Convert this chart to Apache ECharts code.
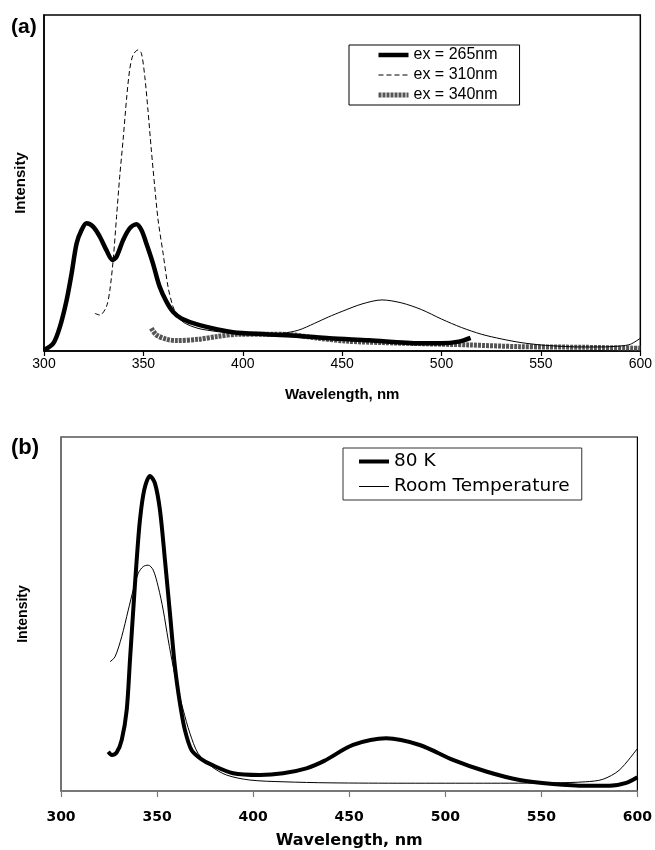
<!DOCTYPE html>
<html>
<head>
<meta charset="utf-8">
<script src="https://cdn.jsdelivr.net/npm/echarts@6/dist/echarts.min.js"></script>
<style>
  html, body { margin: 0; padding: 0; background: #fff; }
  #chart { width: 655px; height: 850px; }
</style>
</head>
<body>
<div id="chart"></div>
<script>
// panel (a): emission spectra at three excitation wavelengths, [nm, intensity]
const ex265 = [[300, 0.3], [304.7, 2.3], [308, 7.2], [311.4, 15.2], [313.9, 23.1], [316.4, 32], [318.9, 36],
  [321.4, 38], [324.7, 37], [328.1, 34], [331.4, 30], [334.5, 27.1], [336.5, 28.1], [339.8, 33], [343.1, 36.5],
  [346.5, 37.7], [349, 36], [351.5, 32], [354.8, 26.1], [358.2, 19.1], [361.6, 14.7], [364.9, 11.7], [369.1, 9.7],
  [378.3, 7.7], [395, 5.6], [411.7, 5], [428.4, 4.5], [443.5, 3.8], [463.5, 3.2], [488.6, 2.3], [500, 2.3],
  [508.7, 2.8], [514.6, 3.9]]
const ex310 = [[325.6, 11.2], [328.1, 10.7], [331.4, 13.2], [333.1, 18], [334.8, 27.1], [336.5, 40], [338.1, 52],
  [339.8, 62.9], [341.5, 74.8], [343.1, 83.7], [344.8, 88.1], [347.3, 89.6], [349, 88.6], [350.7, 81.7],
  [352.3, 71.7], [354, 59.8], [355.7, 48.9], [357.4, 39], [359.9, 29.1], [362.4, 19.1], [364.9, 13.2],
  [367.4, 10.2], [370, 8.6], [375, 7.2], [380, 6.4], [390, 5.6], [400, 5.2], [410, 5.1], [420, 5.3], [428, 6.2],
  [436, 8.2], [443, 10.1], [450, 11.8], [460, 14], [470, 15.2], [480, 14.3], [490, 12.3], [500, 9.5], [510, 7],
  [520, 5], [530, 3.6], [540, 2.5], [550, 1.8], [560, 1.4], [570, 1.2], [580, 1.2], [590, 1.5], [595, 2], [600, 3.8]]
const ex340 = [[354, 6.8], [356.5, 4.8], [361.6, 3.5], [366.6, 3.1], [378, 3.5], [387, 4.3], [398, 5], [412, 5],
  [423, 4.9], [438, 3.8], [453, 2.9], [470, 2.5], [489, 2.2], [514, 1.8], [539, 1.3], [572, 1.1], [600, 0.8]]

// panel (b): 80 K vs room temperature
const k80 = [[324.6, 11.1], [326.5, 10.2], [329, 10.9], [331.6, 14.4], [334.2, 22.9], [335.9, 37], [337.6, 51.1],
  [339.4, 65.3], [341.1, 76.6], [343.3, 85], [346.3, 89], [348.9, 86.9], [351.5, 79.4], [354.1, 65.3],
  [356.7, 50.2], [359.3, 35.1], [361.9, 24.8], [364.5, 17.2], [368, 11.5], [373, 9], [378, 7.5], [389.6, 5],
  [403.5, 4.5], [415.6, 5], [427.7, 6.4], [437, 8.5], [452, 13], [469.3, 14.9], [486.7, 13], [504, 8.8],
  [521.3, 5.5], [538.7, 3.1], [556, 2], [573.3, 1.5], [585.5, 1.5], [594.2, 2.3], [600, 3.9]]
const roomTemp = [[325.5, 36.5], [328.1, 37.9], [331.6, 43.6], [335, 51.1], [337.6, 56.8], [340.2, 61.5],
  [342.8, 63.4], [345.4, 63.8], [348, 62.4], [350.6, 57.7], [353.2, 51.1], [355.8, 42.7], [358.4, 35.1],
  [361, 28.5], [363.6, 22.9], [367.1, 16.3], [371.4, 10.6], [378.4, 6.9], [386.2, 4.5], [398.3, 3.1],
  [415.6, 2.6], [440, 2.3], [480, 2.2], [520, 2.2], [556, 2.3], [573, 2.6], [582, 3.3], [590.6, 5.9], [600, 12]]

const legendA = ['ex = 265nm', 'ex = 310nm', 'ex = 340nm']
const legendB = ['80 K', 'Room Temperature']
const xTicks = [300, 350, 400, 450, 500, 550, 600]

// the 310nm curve is dashed on the peak, the long tail prints solid
const dashEnd = 367.4
const ex310Dashed = ex310.filter(p => p[0] <= dashEnd)
const ex310Tail = ex310.filter(p => p[0] >= dashEnd)

const arial = '"Liberation Sans", Arial, sans-serif'
const dejavu = '"DejaVu Sans", Verdana, sans-serif'

function xAxisOf(idx, o) {
  return {
    type: 'value',
    gridIndex: idx,
    min: xTicks[0],
    max: xTicks[xTicks.length - 1],
    interval: 50,
    name: 'Wavelength, nm',
    nameLocation: 'middle',
    nameGap: o.nameGap,
    nameTextStyle: { fontFamily: o.nameFont, fontWeight: 'bold', fontSize: o.nameSize, color: '#000' },
    axisLine: { lineStyle: { color: o.axisColor, width: 1.5 } },
    axisTick: { inside: false, length: o.tickLen, lineStyle: { color: o.axisColor, width: 1.2 } },
    axisLabel: { margin: o.labelMargin, fontFamily: o.labelFont, fontWeight: o.labelWeight,
      fontSize: 14, color: '#000' },
    splitLine: { show: false }
  }
}

function yAxisOf(idx, o) {
  return {
    type: 'value',
    gridIndex: idx,
    min: 0,
    max: 100,
    name: 'Intensity',
    nameLocation: 'middle',
    nameGap: o.nameGap,
    nameTextStyle: { fontFamily: arial, fontWeight: 'bold', fontSize: o.nameSize, color: '#000' },
    axisLine: { show: true, lineStyle: { color: o.axisColor, width: 1.5 } },
    axisTick: { show: false },
    axisLabel: { show: false },
    splitLine: { show: false }
  }
}

function line(name, data, xi, width, type, color, z) {
  return {
    name: name,
    type: 'line',
    xAxisIndex: xi,
    yAxisIndex: xi,
    data: data,
    smooth: 0.3,
    symbol: 'none',
    z: z,
    itemStyle: { color: 'rgba(0,0,0,0)' },
    lineStyle: { color: color, width: width, type: type },
    emphasis: { disabled: true }
  }
}

function legendOf(names, o) {
  return {
    data: names,
    orient: 'vertical',
    left: o.left,
    top: o.top,
    itemWidth: 30,
    itemHeight: 14,
    itemGap: 0,
    padding: o.padding,
    borderColor: o.border,
    borderWidth: 1,
    backgroundColor: '#fff',
    selectedMode: false,
    itemStyle: { color: 'rgba(0,0,0,0)', borderWidth: 0 },
    lineStyle: { width: 'inherit' },
    textStyle: { fontFamily: o.font, fontSize: o.fontSize, lineHeight: o.lineHeight, color: '#000' }
  }
}

const chart = echarts.init(document.getElementById('chart'))
chart.setOption({
  animation: false,
  backgroundColor: '#fff',
  title: [
    { text: '(a)', left: 6, top: 12, textStyle: { fontFamily: arial, fontWeight: 'bold', fontSize: 21, color: '#000' } },
    { text: '(b)', left: 6, top: 432, textStyle: { fontFamily: arial, fontWeight: 'bold', fontSize: 22, color: '#000' } }
  ],
  grid: [
    { left: 44, top: 15, width: 598, height: 336, show: true, borderColor: '#000', borderWidth: 1.5 },
    { left: 61, top: 437, width: 577, height: 354, show: true, borderColor: '#000', borderWidth: 1.2 }
  ],
  legend: [
    legendOf(legendA, { left: 349, top: 45, padding: [0, 22, 0, 27], border: '#000',
      font: arial, fontSize: 16, lineHeight: 20 }),
    legendOf(legendB, { left: 343, top: 448, padding: [1, 12, 1, 14], border: '#333',
      font: dejavu, fontSize: 18.5, lineHeight: 25 })
  ],
  xAxis: [
    xAxisOf(0, { nameGap: 36, nameFont: arial, nameSize: 15, axisColor: '#000', tickLen: 5, labelMargin: 6,
      labelFont: arial, labelWeight: 'normal' }),
    xAxisOf(1, { nameGap: 42, nameFont: dejavu, nameSize: 16, axisColor: '#777', tickLen: 6, labelMargin: 19,
      labelFont: dejavu, labelWeight: 'bold' })
  ],
  yAxis: [
    yAxisOf(0, { nameGap: 16, nameSize: 15, axisColor: '#000' }),
    yAxisOf(1, { nameGap: 31, nameSize: 14, axisColor: '#777' })
  ],
  series: [
    line('ex = 340nm', ex340, 0, 5, [3, 1], '#555', 2),
    line('ex = 310nm', ex310Dashed, 0, 1, [5, 3], '#000', 3),
    line('', ex310Tail, 0, 1, 'solid', '#000', 3),
    line('ex = 265nm', ex265, 0, 4.5, 'solid', '#000', 4),
    line('Room Temperature', roomTemp, 1, 1, 'solid', '#000', 3),
    line('80 K', k80, 1, 4, 'solid', '#000', 4)
  ]
})
</script>
</body>
</html>
